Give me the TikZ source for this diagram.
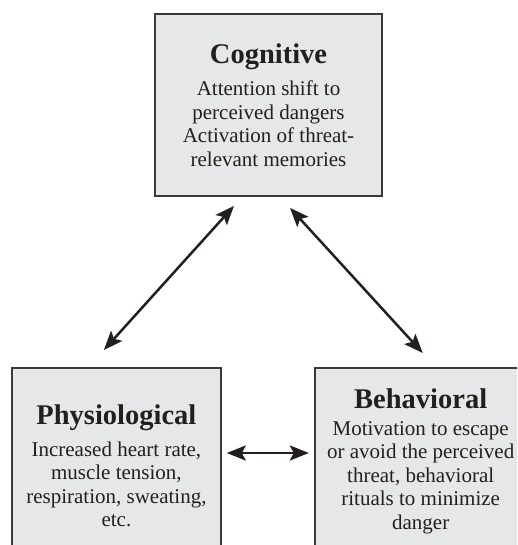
\documentclass[tikz,border=0pt]{standalone}
\usepackage{fontspec}
\setmainfont{Liberation Serif}
\usepackage{xcolor}
\usetikzlibrary{positioning,arrows.meta}
\definecolor{boxgray}{HTML}{E6E7E8}
\definecolor{edgegray}{HTML}{3A3A3A}
\definecolor{inkblack}{HTML}{231F20}
\newcommand\boxhead[1]{{\fontsize{28.5}{32}\selectfont\bfseries #1}}

\begin{document}
\begin{tikzpicture}[x=1pt,y=1pt,
    box/.style={draw=edgegray,fill=boxgray,line width=1.8pt,align=center,text=inkblack,
      font=\fontsize{21}{23.5}\selectfont,inner sep=0pt},
    link/.style={{Stealth[length=19pt,width=15pt,inset=4pt]}-{Stealth[length=19pt,width=15pt,inset=4pt]},
      line width=2.5pt,draw=inkblack}]
    \useasboundingbox (0,0) rectangle (517,545);
    \clip (0,0) rectangle (517,545);
    \node[box,minimum width=227pt,minimum height=182pt] (cog) at (268.5,440)
      {\boxhead{Cognitive}\\[8.5pt]Attention shift to\\perceived dangers\\Activation of threat-\\relevant memories};
    \node[box,minimum width=209pt,minimum height=196pt,anchor=north west] (phys) at (11,178)
      {\boxhead{Physiological}\\[8.5pt]Increased heart rate,\\muscle tension,\\respiration, sweating,\\etc.};
    \node[box,minimum width=212pt,minimum height=187pt,right=92pt of phys.north east,anchor=north west] (beh)
      {\boxhead{Behavioral}\\[3pt]Motivation to escape\\or avoid the perceived\\threat, behavioral\\rituals to minimize\\danger};
    \draw[link] ([xshift=-12.5pt,yshift=17pt]phys.north) -- ([xshift=-34.5pt,yshift=-9pt]cog.south);
    \draw[link] ([xshift=21.5pt,yshift=-11pt]cog.south) -- ([xshift=2pt,yshift=14pt]beh.north);
    \draw[link] ([xshift=5pt,yshift=-86pt]phys.north east) -- ([xshift=-5pt,yshift=-86pt]beh.north west);
  \end{tikzpicture}
\end{document}
